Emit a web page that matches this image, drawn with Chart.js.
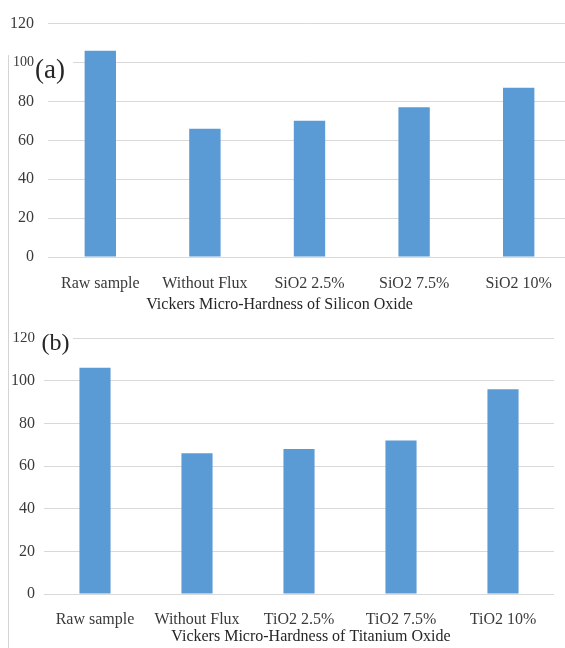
<!DOCTYPE html>
<html>
<head>
<meta charset="utf-8">
<script src="https://cdn.jsdelivr.net/npm/chart.js@4/dist/chart.umd.min.js"></script>
<style>
  html, body { margin: 0; padding: 0; background: #ffffff; overflow: hidden; width: 565px; height: 648px; }
  .panel { position: absolute; left: 0; }
  #panelA { top: 0; }
  #panelB { top: 320px; }
  #frameLine { position: absolute; left: 8px; top: 55px; width: 1px; height: 593px; background: #d4d4d4; }
</style>
</head>
<body>
<div id="frameLine"></div>
<div class="panel" id="panelA"><canvas id="chartA" width="571" height="320"></canvas></div>
<div class="panel" id="panelB"><canvas id="chartB" width="554" height="328"></canvas></div>
<script>
// Vickers micro-hardness readings for the two flux families
const siliconCategories = ['Raw sample', 'Without Flux', 'SiO2 2.5%', 'SiO2 7.5%', 'SiO2 10%'];
const siliconHardness = [106, 66, 70, 77, 87];

const titaniumCategories = ['Raw sample', 'Without Flux', 'TiO2 2.5%', 'TiO2 7.5%', 'TiO2 10%'];
const titaniumHardness = [106, 66, 68, 72, 96];

const yMin = 0;
const yMax = 120;
const yStep = 20;

const FONT = "'Liberation Serif', 'Times New Roman', serif";
const BAR_BLUE = '#5B9BD5';
const GRID_GREY = '#d9d9d9';
const TEXT_DARK = '#262626';
const TICK_TEXT = '#3a3a3a';

// Panel tag such as "(a)" on a white patch, plus the caption under the axis
const panelText = {
  id: 'panelText',
  afterDraw(chart, args, o) {
    const ctx = chart.ctx;
    ctx.save();
    ctx.fillStyle = '#ffffff';
    ctx.fillRect(o.tagBox[0], o.tagBox[1], o.tagBox[2], o.tagBox[3]);
    ctx.fillStyle = TEXT_DARK;
    ctx.textBaseline = 'alphabetic';
    ctx.textAlign = 'left';
    ctx.font = o.tagSize + 'px ' + FONT;
    ctx.fillText(o.tag, o.tagX, o.tagY);
    ctx.textAlign = 'center';
    ctx.font = '16px ' + FONT;
    ctx.fillText(o.caption, o.captionX, o.captionY);
    ctx.restore();
  }
};

function makeChart(canvasId, labels, values, cfg) {
  return new Chart(document.getElementById(canvasId), {
    type: 'bar',
    data: {
      labels: labels,
      datasets: [{
        data: values,
        backgroundColor: BAR_BLUE,
        borderWidth: 0,
        categoryPercentage: 1,
        barPercentage: cfg.barFraction
      }]
    },
    options: {
      responsive: false,
      animation: false,
      layout: { padding: { top: cfg.top, left: 0, right: 0, bottom: 0 } },
      plugins: {
        legend: { display: false },
        tooltip: { enabled: false },
        panelText: cfg.text
      },
      scales: {
        x: {
          grid: { display: false },
          border: { display: false },
          ticks: {
            color: TICK_TEXT,
            font: { family: FONT, size: 16 },
            padding: cfg.xPad,
            maxRotation: 0,
            autoSkip: false
          },
          afterFit(scale) { scale.height = cfg.xHeight; }
        },
        y: {
          min: yMin,
          max: yMax,
          grid: { color: GRID_GREY, lineWidth: 1, drawTicks: false },
          border: { display: false },
          ticks: {
            stepSize: yStep,
            color: TICK_TEXT,
            padding: cfg.yPad,
            font: (ctx) => ({
              family: FONT,
              size: (ctx.tick && ctx.tick.value === cfg.smallTick) ? cfg.smallSize : 16
            })
          },
          afterFit(scale) { scale.width = cfg.yWidth; }
        }
      }
    },
    plugins: [panelText]
  });
}

makeChart('chartA', siliconCategories, siliconHardness, {
  top: 23, xHeight: 63, xPad: 9, yWidth: 48, yPad: 14, barFraction: 0.3,
  smallTick: 100, smallSize: 14,
  text: {
    tag: '(a)', tagSize: 27, tagX: 35, tagY: 77.5, tagBox: [35, 56, 38, 29],
    caption: 'Vickers Micro-Hardness of Silicon Oxide', captionX: 279.5, captionY: 309
  }
});

makeChart('chartB', titaniumCategories, titaniumHardness, {
  top: 14, xHeight: 54, xPad: 8, yWidth: 44, yPad: 9, barFraction: 0.305,
  smallTick: 120, smallSize: 15,
  text: {
    tag: '(b)', tagSize: 24, tagX: 41.5, tagY: 29.5, tagBox: [40, 9, 33, 27],
    caption: 'Vickers Micro-Hardness of Titanium Oxide', captionX: 311, captionY: 321
  }
});
</script>
</body>
</html>
